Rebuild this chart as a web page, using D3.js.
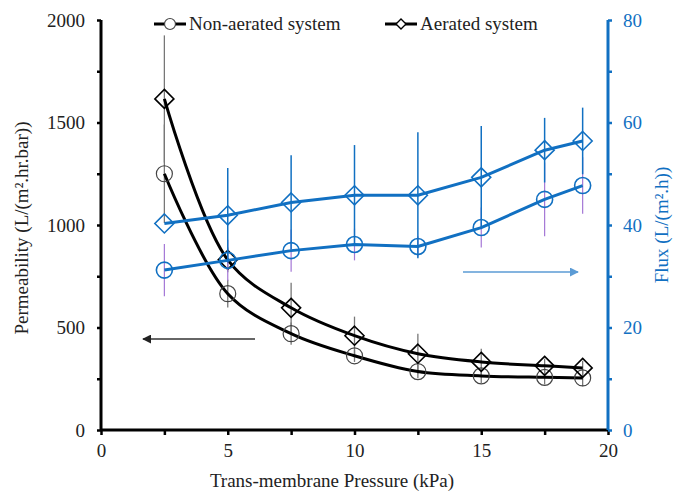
<!DOCTYPE html>
<html>
<head>
<meta charset="utf-8">
<script src="https://cdn.jsdelivr.net/npm/d3@7"></script>
<style>
  html, body { margin: 0; padding: 0; background: #fff; }
  svg text { font-family: "Liberation Serif", "Times New Roman", Times, "DejaVu Serif", serif !important; }
</style>
</head>
<body>
<svg id="chart" width="673" height="491"></svg>
<script>
// ---- data ----
const pressure = [2.5, 5, 7.5, 10, 12.5, 15, 17.5, 19];
const permNonAerated = [1250, 665, 470, 362, 285, 264, 257, 254];
const permNonAeratedErr = [240, 68, 54, 30, 33, 35, 35, 40];
const permAerated = [1615, 830, 596, 460, 372, 332, 313, 303];
const permAeratedErr = [310, 60, 122, 93, 98, 64, 35, 35];
const fluxNonAerated = [31.2, 33.1, 35.0, 36.2, 35.8, 39.5, 45.0, 47.7];
const fluxNonAeratedErr = [5.1, 4.0, 4.1, 3.1, 2.0, 3.9, 7.2, 5.5];
const fluxAerated = [40.3, 41.9, 44.4, 45.8, 45.8, 49.3, 54.6, 56.4];
const fluxAeratedErr = [0, 9.2, 9.2, 9.8, 12.3, 10.0, 6.3, 6.5];
const xTicks = [0, 2.5, 5, 7.5, 10, 12.5, 15, 17.5, 20];
const xTickLabels = ["0", "", "5", "", "10", "", "15", "", "20"];
const yLeftTicks = [0, 250, 500, 750, 1000, 1250, 1500, 1750, 2000];
const yRightTicks = [0, 10, 20, 30, 40, 50, 60, 70, 80];
const legendLabels = ["Non-aerated system", "Aerated system"];

const BLUE = "#1170c2", PURPLE = "#a477d6", GRAY = "#777", BLACK = "#000";
const FONT = "Liberation Serif, Times New Roman, Times, DejaVu Serif, serif";

const svg = d3.select("#chart");
const x = d3.scaleLinear().domain([0, 20]).range([101, 608]);
const yL = d3.scaleLinear().domain([0, 2000]).range([430, 20]);
const yR = d3.scaleLinear().domain([0, 80]).range([430, 20]);

// ---- axes ----
const fs = "19px";
const xAxis = svg.append("g").attr("transform", "translate(0,430)")
  .call(d3.axisBottom(x).tickValues(xTicks).tickFormat((d, i) => xTickLabels[i]).tickSize(5).tickPadding(9));
xAxis.attr("font-family", FONT);
xAxis.select(".domain").attr("stroke", BLACK).attr("stroke-width", 3).attr("d", "M101,0H608");
xAxis.selectAll(".tick line").attr("stroke-width", 2.5);
xAxis.selectAll("text").attr("font-size", fs).attr("fill", "#222").attr("font-family", FONT);

const lAxis = svg.append("g").attr("transform", "translate(101,0)")
  .call(d3.axisLeft(yL).tickValues(yLeftTicks).tickFormat(d => d % 500 === 0 ? d : "").tickSize(4).tickPadding(12));
lAxis.attr("font-family", FONT);
lAxis.select(".domain").attr("stroke", BLACK).attr("stroke-width", 3).attr("d", "M0,430V20");
lAxis.selectAll(".tick line").attr("stroke-width", 2.5);
lAxis.selectAll("text").attr("font-size", fs).attr("fill", "#222").attr("font-family", FONT);

const rAxis = svg.append("g").attr("transform", "translate(608,0)")
  .call(d3.axisRight(yR).tickValues(yRightTicks).tickFormat(d => d % 20 === 0 ? d : "").tickSize(4).tickPadding(11));
rAxis.attr("font-family", FONT);
rAxis.select(".domain").attr("stroke", BLUE).attr("stroke-width", 3).attr("d", "M0,430V20");
rAxis.selectAll(".tick line").attr("stroke", BLUE).attr("stroke-width", 2.5);
rAxis.selectAll("text").attr("font-size", fs).attr("fill", BLUE).attr("font-family", FONT);

// ---- axis titles ----
svg.append("text").attr("x", 332).attr("y", 487).attr("text-anchor", "middle").attr("font-family", FONT)
  .attr("font-size", fs).attr("fill", "#222").text("Trans-membrane Pressure (kPa)");
svg.append("text").attr("transform", "translate(28,228) rotate(-90)").attr("text-anchor", "middle").attr("font-family", FONT)
  .attr("font-size", fs).attr("fill", "#222").text("Permeability (L/(m².hr.bar))");
svg.append("text").attr("transform", "translate(668,225) rotate(-90)").attr("text-anchor", "middle").attr("font-family", FONT)
  .attr("font-size", fs).attr("fill", BLUE).text("Flux (L/(m².h))");

// ---- helpers ----
function errBars(vals, errs, ys, color, w) {
  svg.append("g").selectAll("line").data(pressure).join("line")
    .attr("x1", d => x(d)).attr("x2", d => x(d))
    .attr("y1", (d, i) => ys(vals[i] + errs[i])).attr("y2", (d, i) => ys(vals[i] - errs[i]))
    .attr("stroke", color).attr("stroke-width", w);
}
function seriesLine(vals, ys, color, curve) {
  svg.append("path").datum(pressure)
    .attr("d", d3.line().x(d => x(d)).y((d, i) => ys(vals[i])).curve(curve))
    .attr("fill", "none").attr("stroke", color).attr("stroke-width", 3).attr("stroke-linejoin", "round");
}
function circles(vals, ys, color, r, w) {
  svg.append("g").selectAll("circle").data(pressure).join("circle")
    .attr("cx", d => x(d)).attr("cy", (d, i) => ys(vals[i])).attr("r", r)
    .attr("fill", "none").attr("stroke", color).attr("stroke-width", w);
}
function diamonds(vals, ys, color, s, w) {
  svg.append("g").selectAll("path").data(pressure).join("path")
    .attr("transform", (d, i) => `translate(${x(d)},${ys(vals[i])})`)
    .attr("d", `M0,${-s}L${s},0L0,${s}L${-s},0Z`)
    .attr("fill", "none").attr("stroke", color).attr("stroke-width", w);
}

// ---- permeability (left axis) ----
errBars(permNonAerated, permNonAeratedErr, yL, GRAY, 1.3);
errBars(permAerated, permAeratedErr, yL, GRAY, 1.3);
seriesLine(permNonAerated, yL, BLACK, d3.curveCatmullRom);
seriesLine(permAerated, yL, BLACK, d3.curveCatmullRom);
circles(permNonAerated, yL, "#444", 8, 1.2);
diamonds(permAerated, yL, BLACK, 9.5, 1.6);

// ---- flux (right axis) ----
errBars(fluxNonAerated, fluxNonAeratedErr, yR, PURPLE, 1.2);
errBars(fluxAerated, fluxAeratedErr, yR, BLUE, 1.5);
seriesLine(fluxNonAerated, yR, BLUE, d3.curveLinear);
seriesLine(fluxAerated, yR, BLUE, d3.curveLinear);
circles(fluxNonAerated, yR, BLUE, 8, 1.6);
diamonds(fluxAerated, yR, BLUE, 9.5, 1.6);

// ---- arrows ----
const defs = svg.append("defs");
defs.append("marker").attr("id", "ahBlack").attr("viewBox", "0 0 10 10").attr("refX", 9).attr("refY", 5)
  .attr("markerWidth", 6).attr("markerHeight", 6).attr("orient", "auto")
  .append("path").attr("d", "M0,0L10,5L0,10Z").attr("fill", "#222");
defs.append("marker").attr("id", "ahBlue").attr("viewBox", "0 0 10 10").attr("refX", 9).attr("refY", 5)
  .attr("markerWidth", 6).attr("markerHeight", 6).attr("orient", "auto")
  .append("path").attr("d", "M0,0L10,5L0,10Z").attr("fill", "#5b9bd5");
svg.append("line").attr("x1", 255).attr("y1", 339).attr("x2", 143).attr("y2", 339)
  .attr("stroke", "#333").attr("stroke-width", 1.5).attr("marker-end", "url(#ahBlack)");
svg.append("line").attr("x1", 463).attr("y1", 272).attr("x2", 578).attr("y2", 272)
  .attr("stroke", "#5b9bd5").attr("stroke-width", 1.5).attr("marker-end", "url(#ahBlue)");

// ---- legend ----
const leg = svg.append("g");
const legItems = [{x0: 154, label: legendLabels[0], sym: "circle"}, {x0: 385, label: legendLabels[1], sym: "diamond"}];
legItems.forEach(it => {
  leg.append("line").attr("x1", it.x0).attr("x2", it.x0 + 32).attr("y1", 24).attr("y2", 24)
    .attr("stroke", BLACK).attr("stroke-width", 3);
  if (it.sym === "circle") {
    leg.append("circle").attr("cx", it.x0 + 16).attr("cy", 24).attr("r", 5.5)
      .attr("fill", "#fff").attr("stroke", "#444").attr("stroke-width", 1.2);
  } else {
    leg.append("path").attr("transform", `translate(${it.x0 + 16},24)`).attr("d", "M0,-5L5,0L0,5L-5,0Z")
      .attr("fill", "#fff").attr("stroke", BLACK).attr("stroke-width", 1.4);
  }
  leg.append("text").attr("x", it.x0 + 35).attr("y", 30).attr("font-family", FONT)
    .attr("font-size", fs).attr("fill", "#222").text(it.label);
});
</script>
</body>
</html>
